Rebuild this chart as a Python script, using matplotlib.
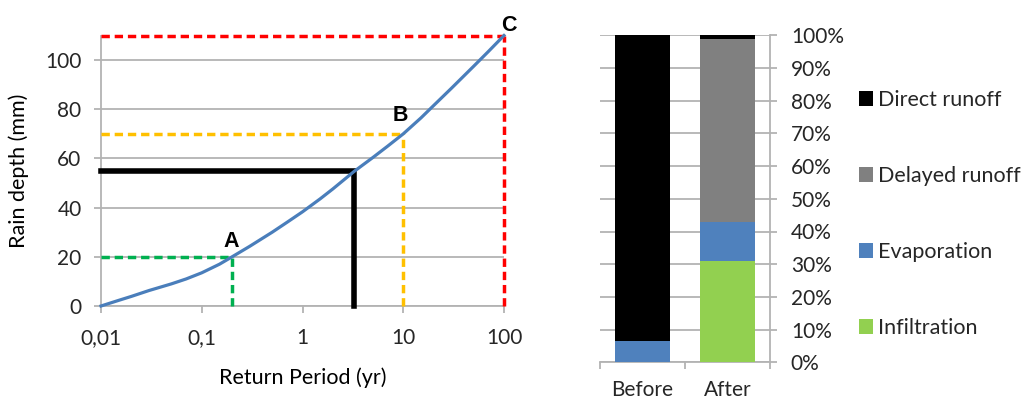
import numpy as np
import matplotlib.pyplot as plt
from matplotlib.patches import Patch

# rain depth vs return period
return_period = [0.01, 0.015, 0.02, 0.03, 0.05, 0.07, 0.1, 0.15, 0.2, 0.3, 0.5,
                 0.7, 1, 1.5, 2, 3.27, 5, 7, 10, 15, 20, 30, 50, 70, 100]
rain_depth = [0, 2.3, 3.9, 6.3, 9, 11, 13.5, 17, 20, 24.3, 30,
              34, 38.3, 43.6, 47.6, 54.8, 60.4, 65, 70, 76.5, 81.5, 88.5, 97.5, 103.5, 110]

# marked points A, B, C and the black design point
point_labels = ["A", "B", "C"]
point_T = [0.2, 10, 100]
point_depth = [20, 70, 110]
point_colors = ["#00b050", "#ffc000", "#ff0000"]
design_T = 3.27
design_depth = 55

# water balance shares (%)
cases = ["Before", "After"]
infiltration = [0, 31]
evaporation = [6.6, 12]
delayed_runoff = [0, 56]
direct_runoff = [93.4, 1]

W, H = 1025, 401
GRID = "#b3b3b3"
FONT = "Lato"

plt.rcParams["font.family"] = [FONT, "DejaVu Sans"]
plt.rcParams["font.size"] = 15
plt.rcParams["text.color"] = "#262626"
plt.rcParams["xtick.color"] = GRID
plt.rcParams["ytick.color"] = GRID
plt.rcParams["xtick.labelcolor"] = "#262626"
plt.rcParams["ytick.labelcolor"] = "#262626"

fig = plt.figure(figsize=(W / 100, H / 100), dpi=100)

# ---- left: rain depth vs return period ----
ax = fig.add_axes([101 / W, 1 - 306 / H, (504 - 101) / W, (306 - 35.5) / H])
ax.set_xscale("log")
ax.set_xlim(0.01, 100)
ax.set_ylim(0, 110)
ax.set_yticks(range(0, 101, 20))
ax.set_xticks([0.01, 0.1, 1, 10, 100])
ax.set_xticklabels(["0,01", "0,1", "1", "10", "100"])
ax.minorticks_off()
ax.yaxis.grid(True, color=GRID, lw=1.3)
ax.set_axisbelow(True)
for side in ["top", "right"]:
    ax.spines[side].set_visible(False)
for side in ["left", "bottom"]:
    ax.spines[side].set_color(GRID)
    ax.spines[side].set_linewidth(1.3)
ax.tick_params(axis="both", length=5, width=1.3, labelsize=15)
ax.tick_params(axis="y", pad=9)
ax.tick_params(axis="x", pad=11)

dash = (0, (2.4, 1.4))
for T, d, c in zip(point_T, point_depth, point_colors):
    ax.plot([0.01, T], [d, d], color=c, lw=2.5, ls=dash, clip_on=False, zorder=3)
    ax.plot([T, T], [0, d], color=c, lw=2.5, ls=dash, clip_on=False, zorder=3)
ax.plot([0.01, design_T, design_T], [design_depth, design_depth, 0],
        color="black", lw=4, solid_joinstyle="miter", clip_on=False, zorder=3)
ax.plot(return_period, rain_depth, color="#4a7ebb", lw=2.3, zorder=4,
        clip_on=False, solid_joinstyle="round")

offsets = [(-1, 15), (-3, 18), (5, 10)]
for lab, T, d, off in zip(point_labels, point_T, point_depth, offsets):
    ax.annotate(lab, (T, d), xytext=off, textcoords="offset pixels",
                ha="center", va="center", fontsize=15.5, fontweight="bold",
                family="Liberation Sans", color="black", annotation_clip=False)

ax.set_xlabel("Return Period (yr)", fontsize=15.5, labelpad=14)
ax.set_ylabel("Rain depth (mm)", fontsize=15.5, labelpad=12)

# ---- right: stacked water balance ----
bx = fig.add_axes([600 / W, 1 - 362.3 / H, 170 / W, (362.3 - 35.3) / H])
x = np.arange(len(cases))
width = 0.65
series = [("Infiltration", infiltration, "#92d050"),
          ("Evaporation", evaporation, "#4f81bd"),
          ("Delayed runoff", delayed_runoff, "#808080"),
          ("Direct runoff", direct_runoff, "black")]
bottom = np.zeros(len(cases))
for name, vals, col in series:
    bx.bar(x, vals, width, bottom=bottom, color=col, zorder=3)
    bottom += np.array(vals)

bx.set_xlim(-0.5, 1.5)
bx.set_ylim(0, 100)
bx.set_yticks(range(0, 101, 10))
bx.set_yticklabels(["%d%%" % v for v in range(0, 101, 10)])
bx.yaxis.tick_right()
bx.yaxis.grid(True, color=GRID, lw=1.3)
bx.set_axisbelow(True)
bx.set_xticks(x)
bx.set_xticklabels(cases)
bx.set_xticks([-0.5, 0.5, 1.5], minor=True)
bx.tick_params(axis="x", which="major", length=0, pad=13, labelsize=15)
bx.tick_params(axis="x", which="minor", length=5, width=1.3)
bx.tick_params(axis="y", length=5, width=1.3, pad=10, labelsize=15)
for side in ["top", "left"]:
    bx.spines[side].set_visible(False)
for side in ["right", "bottom"]:
    bx.spines[side].set_color(GRID)
    bx.spines[side].set_linewidth(1.3)

handles = [Patch(facecolor=col, label=name) for name, vals, col in series][::-1]
fig.legend(handles=handles, loc="center left",
           bbox_to_anchor=(859 / W, 1 - 214 / H), bbox_transform=fig.transFigure,
           frameon=False, fontsize=15.5, labelspacing=2.6, handlelength=0.65,
           handleheight=0.65, handletextpad=0.25, borderpad=0, borderaxespad=0)

fig.savefig("out.png", dpi=100)
